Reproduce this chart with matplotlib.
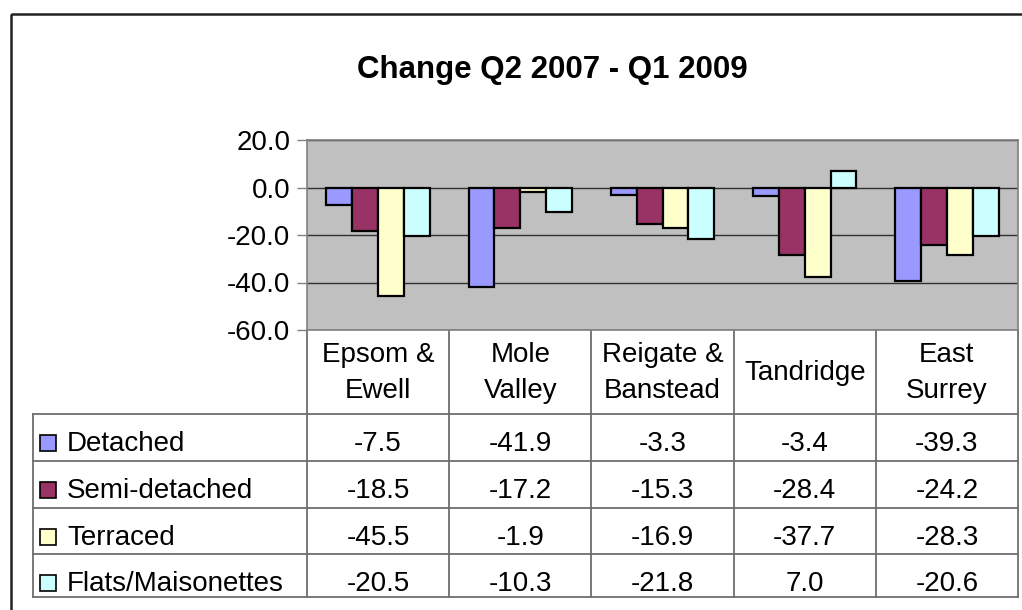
import matplotlib
matplotlib.use('Agg')
import matplotlib.pyplot as plt
from matplotlib.patches import Rectangle

plt.rcParams['font.family'] = ['Liberation Sans', 'DejaVu Sans']

areas = ['Epsom &\nEwell', 'Mole\nValley', 'Reigate &\nBanstead', 'Tandridge', 'East\nSurrey']
types = ['Detached', 'Semi-detached', 'Terraced', 'Flats/Maisonettes']
detached = [-7.5, -41.9, -3.3, -3.4, -39.3]
semi = [-18.5, -17.2, -15.3, -28.4, -24.2]
terraced = [-45.5, -1.9, -16.9, -37.7, -28.3]
flats = [-20.5, -10.3, -21.8, 7.0, -20.6]
colors = ['#9999FF', '#993366', '#FFFFCC', '#CCFFFF']
title = 'Change Q2 2007 - Q1 2009'

W, H = 1022, 610
fs = 20
fig = plt.figure(figsize=(W/100, H/100), dpi=100)

# overlay in pixel coordinates for the frame and the data table
ov = fig.add_axes([0, 0, 1, 1])
ov.set_xlim(0, W)
ov.set_ylim(H, 0)
ov.axis('off')

# plot area
pl, pt, pr, pb = 307, 140, 1018, 330
ax = fig.add_axes([pl/W, 1-pb/H, (pr-pl)/W, (pb-pt)/H])
ax.set_facecolor('#C0C0C0')
series = [detached, semi, terraced, flats]
bw = 1/5.5
for i, vals in enumerate(series):
    xs = [k + (i-1.5)*bw for k in range(len(vals))]
    ax.bar(xs, vals, bw, color=colors[i], edgecolor='black', linewidth=1.6, zorder=3)
ax.set_xlim(-0.5, len(areas)-0.5)
ax.set_ylim(-60, 20)
ax.set_yticks([-60, -40, -20, 0, 20])
ax.set_yticklabels(['%.1f' % v for v in [-60, -40, -20, 0, 20]], fontsize=fs)
ax.set_xticks([])
ax.tick_params(axis='y', direction='out', length=7, width=1, color='#808080', pad=5)
ax.yaxis.grid(True, color='#303030', linewidth=1)
ax.set_axisbelow(True)
for s in ax.spines.values():
    s.set_color('#808080')
    s.set_linewidth(1.2)

ov.text(552, 78, title, ha='center', va='baseline', fontsize=22.5, fontweight='bold')

# outer frame
ov.add_patch(Rectangle((11, 14), 1100, 700, fill=False, edgecolor='#222222', linewidth=1.8))

# data table
lc = '#6E6E6E'
ncat = len(areas)
cw = (pr - pl) / ncat
rows = [414, 461, 508, 554, 597]
for k in range(ncat+1):
    ov.plot([pl + k*cw]*2, [pb, rows[-1]], color=lc, lw=1.3)
ov.plot([33, 33], [rows[0], rows[-1]], color=lc, lw=1.3)
for y in rows:
    ov.plot([33, pr], [y, y], color=lc, lw=1.3)
for k, name in enumerate(areas):
    parts = name.split('\n')
    base = [380] if len(parts) == 1 else [362, 398]
    for txt, yb in zip(parts, base):
        ov.text(pl + (k+0.5)*cw, yb, txt, ha='center', va='baseline', fontsize=fs)
for i, name in enumerate(types):
    yb = rows[i] + 37
    ov.add_patch(Rectangle((40, yb-16), 16, 16, facecolor=colors[i], edgecolor='black', lw=1.2))
    ov.text(67, yb, name, ha='left', va='baseline', fontsize=fs)
    for k, v in enumerate(series[i]):
        ov.text(pl + (k+0.5)*cw, yb, '%.1f' % v, ha='center', va='baseline', fontsize=fs)

fig.savefig('out.png', dpi=100)
